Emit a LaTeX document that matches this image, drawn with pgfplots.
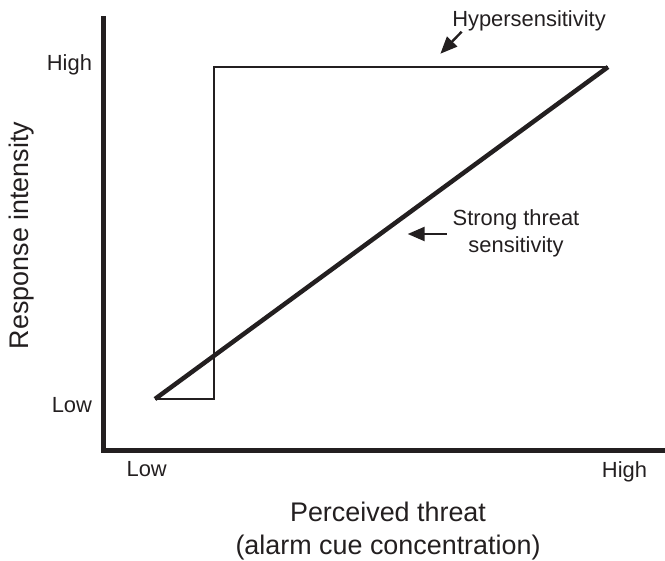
\documentclass[border=0pt]{standalone}
\usepackage{fontspec}
\setmainfont{Liberation Sans}
\usepackage{pgfplots}
\pgfplotsset{compat=1.18}
\usetikzlibrary{arrows.meta}
\definecolor{ink}{HTML}{231F20}
\begin{document}
\begin{tikzpicture}[x=1bp,y=1bp]
\begin{axis}[
  scale only axis,
  width=559bp, height=431.5bp,
  xmin=-0.11369, xmax=1.12031,
  ymin=-0.15361, ymax=1.14608,
  axis lines=left,
  axis line style={-, line width=5bp, color=ink, line cap=rect},
  clip=false,
  xtick={-0.0183,1.0364}, xticklabels={Low,High},
  ytick={-0.0175,1.0057}, yticklabels={Low,High},
  major tick length=0pt,
  tick label style={font=\fontsize{22}{26}\selectfont, text=ink},
  xticklabel style={yshift=-8bp},
  yticklabel style={xshift=-8bp},
  label style={font=\fontsize{27}{33}\selectfont, text=ink},
  xlabel={Perceived threat\\(alarm cue concentration)},
  xlabel style={align=center, at={(axis description cs:0.509,-0.1205)}, anchor=north, inner sep=0pt},
  ylabel={Response intensity},
  ylabel style={at={(axis description cs:-0.1467,0.4971)}, anchor=center, rotate=0},
]
\addplot[ink, line width=2bp, line join=miter] coordinates {(0,0) (0.130,0) (0.130,1) (1,1)};
\addplot[ink, line width=4.5bp] coordinates {(0,0) (1,1)};
\node[anchor=base, inner sep=0pt, text=ink, font=\fontsize{22}{26}\selectfont] at (axis cs:0.8256,1.1214) {Hypersensitivity};
\draw[ink, line width=2.4bp, -{Triangle[length=17bp,width=14bp]}] (axis cs:0.6770,1.1063) -- (axis cs:0.6300,1.0400);
\node[anchor=north, align=center, inner sep=0pt, text=ink, font=\fontsize{22}{28}\selectfont] at (axis cs:0.7969,0.5723) {Strong threat\\sensitivity};
\draw[ink, line width=2.4bp, -{Triangle[length=17bp,width=14bp]}] (axis cs:0.6439,0.497) -- (axis cs:0.5578,0.497);
\coordinate (SW) at (rel axis cs:0,0);
\coordinate (NE) at (rel axis cs:1,1);
\end{axis}
\path ([shift={(-103.5bp,-109bp)}]SW) rectangle ([shift={(2.5bp,18.5bp)}]NE);
\end{tikzpicture}
\end{document}
